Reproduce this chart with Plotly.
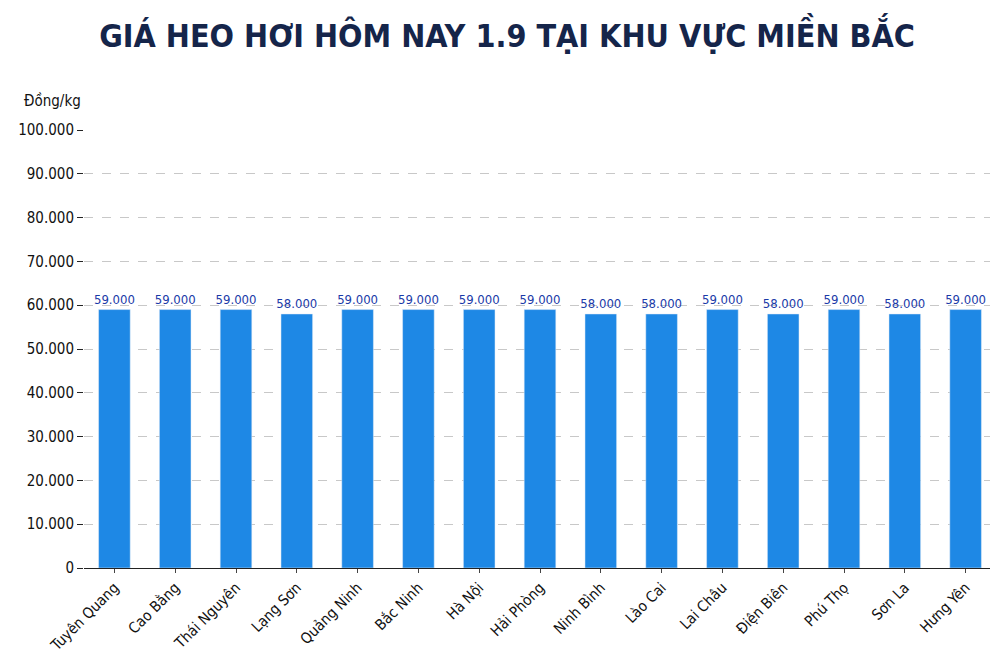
import plotly.graph_objects as go

provinces = ["Tuyên Quang","Cao Bằng","Thái Nguyên","Lạng Sơn","Quảng Ninh","Bắc Ninh","Hà Nội",
             "Hải Phòng","Ninh Bình","Lào Cai","Lai Châu","Điện Biên","Phú Thọ","Sơn La","Hưng Yên"]
prices = [59000,59000,59000,58000,59000,59000,59000,59000,58000,58000,59000,58000,59000,58000,59000]
tick_vals = list(range(0, 100001, 10000))
tick_text = ["0"] + [f"{v//1000}.000" for v in tick_vals[1:]]
labels = [f"{v//1000}.000" for v in prices]

fig = go.Figure(go.Bar(
    x=provinces, y=prices, marker_color="#1e88e5", width=0.52,
    text=labels, textposition="outside", cliponaxis=False, constraintext="none", textangle=0,
    textfont=dict(family="DejaVu Sans Condensed", size=13, color="#1a3aa8"),
))
fig.update_layout(
    width=998, height=665, plot_bgcolor="white", paper_bgcolor="white",
    margin=dict(l=70, r=10, t=122, b=105),
    title=dict(text="<b>GIÁ HEO HƠI HÔM NAY 1.9 TẠI KHU VỰC MIỀN BẮC</b>", x=0.5, y=0.975,
               xanchor="center", yanchor="top",
               font=dict(family="DejaVu Sans Condensed", size=32, color="#15254a")),
    showlegend=False,
    annotations=[dict(text="Đồng/kg", xref="paper", yref="paper", x=-0.068, y=1.04,
                      xanchor="left", yanchor="bottom", showarrow=False,
                      font=dict(family="DejaVu Sans Condensed", size=15, color="#111"))],
)
fig.update_yaxes(range=[0, 100000], tickvals=tick_vals, ticktext=tick_text,
                 showgrid=True, gridcolor="#c8c8c8", griddash="dash", zeroline=False,
                 showline=False, ticks="outside", ticklen=6, tickcolor="#222",
                 tickfont=dict(family="DejaVu Sans Condensed", size=15, color="#111"))
fig.update_xaxes(tickangle=-45, showline=True, linecolor="#222", ticks="outside", ticklen=4,
                 tickfont=dict(family="DejaVu Sans Condensed", size=15, color="#111"))
fig.write_html("out.html")
